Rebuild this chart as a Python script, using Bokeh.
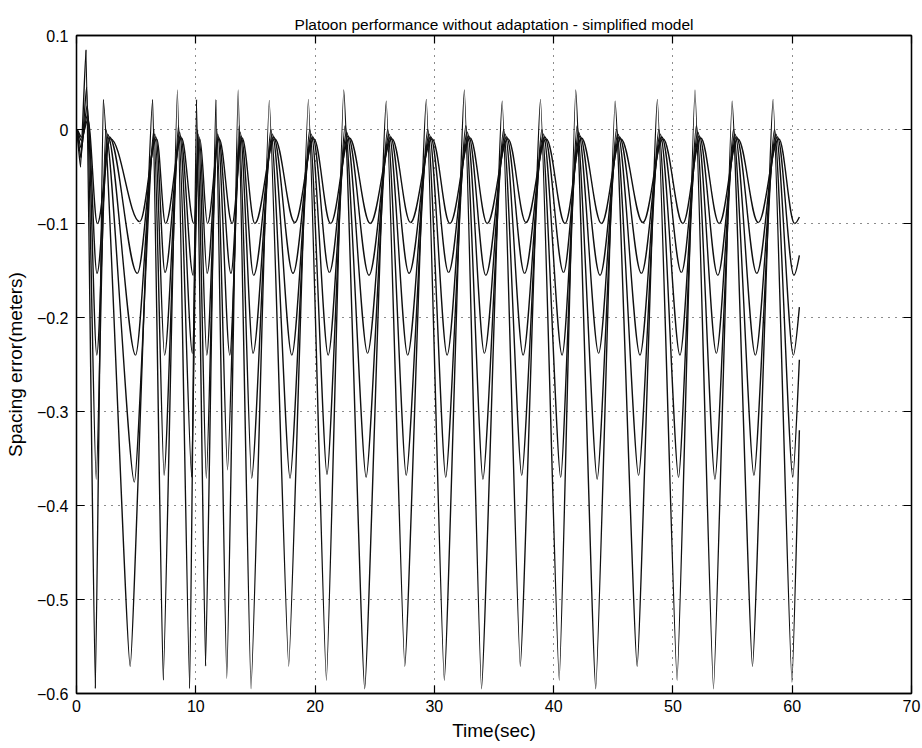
import numpy as np
from bokeh.plotting import figure
from bokeh.models import LinearAxis, FixedTicker
from bokeh.embed import file_html
from bokeh.resources import INLINE

# ---- axes / ticks ----
x_ticks = [0, 10, 20, 30, 40, 50, 60, 70]
y_ticks = [-0.6, -0.5, -0.4, -0.3, -0.2, -0.1, 0.0, 0.1]
y_tick_labels = ["\u22120.6", "\u22120.5", "\u22120.4", "\u22120.3", "\u22120.2", "\u22120.1", "0", "0.1"]

# ---- spacing-error traces: times (s) and values (m) of successive extrema ----
veh5_t = [0, 0.34, 0.8, 1.58, 2.24, 4.5, 6.39, 7.27, 8.46, 9.49, 10.06, 10.82, 11.68, 12.6, 13.55,
          14.63, 16.16, 17.79, 19.44, 20.95, 22.4, 24.16, 25.97, 27.52, 29.33, 30.83, 32.52, 33.95,
          35.69, 37.2, 38.9, 40.47, 41.85, 43.53, 45.15, 47.0, 48.7, 50.35, 51.85, 53.4, 54.96,
          56.67, 58.4, 59.98, 60.6]
veh5_y = [0, -0.04, 0.085, -0.595, 0.032, -0.571, 0.032, -0.586, 0.042, -0.595, 0.032, -0.571,
          0.032, -0.584, 0.042, -0.595, 0.031, -0.571, 0.032, -0.586, 0.042, -0.595, 0.030, -0.571,
          0.032, -0.586, 0.042, -0.595, 0.030, -0.571, 0.032, -0.586, 0.042, -0.595, 0.030, -0.571,
          0.032, -0.586, 0.042, -0.595, 0.030, -0.571, 0.032, -0.588, -0.32]

veh4_t = [0, 0.38, 0.85, 1.65, 2.45, 4.85, 6.5, 7.34, 8.56, 9.66, 10.15, 10.88, 11.76, 12.66, 13.64,
          14.68, 16.3, 17.9, 19.56, 21.0, 22.52, 24.28, 26.09, 27.64, 29.45, 30.95, 32.64, 34.07,
          35.81, 37.32, 39.02, 40.59, 41.97, 43.65, 45.27, 47.12, 48.82, 50.47, 51.97, 53.52, 55.08,
          56.79, 58.52, 60.05, 60.6]
veh4_y = [0, -0.03, 0.045, -0.372, 0.0, -0.375, 0.0, -0.368, 0.004, -0.37, 0.0, -0.371, 0.0,
          -0.362, 0.004, -0.371, 0.0, -0.371, 0.0, -0.367, 0.004, -0.37, 0.0, -0.368, 0.0, -0.37,
          0.004, -0.372, 0.0, -0.368, 0.0, -0.37, 0.004, -0.372, 0.0, -0.368, 0.0, -0.37, 0.004,
          -0.372, 0.0, -0.368, 0.0, -0.37, -0.245]

veh3_t = [0, 0.4, 0.9, 1.7, 2.6, 4.95, 6.58, 7.38, 8.64, 9.72, 10.22, 10.92, 11.84, 12.85, 13.72,
          14.8, 16.42, 18.05, 19.68, 21.1, 22.64, 24.4, 26.21, 27.76, 29.57, 31.07, 32.76, 34.19,
          35.93, 37.44, 39.14, 40.71, 42.09, 43.77, 45.39, 47.24, 48.94, 50.59, 52.09, 53.64, 55.2,
          56.91, 58.64, 60.1, 60.6]
veh3_y = [0, -0.02, 0.025, -0.24, -0.005, -0.24, -0.005, -0.24, -0.003, -0.238, -0.005, -0.24,
          -0.005, -0.24, -0.003, -0.238, -0.005, -0.24, -0.005, -0.24, -0.003, -0.238, -0.005,
          -0.24, -0.005, -0.24, -0.003, -0.238, -0.005, -0.24, -0.005, -0.24, -0.003, -0.238,
          -0.005, -0.24, -0.005, -0.24, -0.003, -0.238, -0.005, -0.24, -0.005, -0.24, -0.189]

veh2_t = [0, 0.42, 0.92, 1.72, 2.75, 5.1, 6.65, 7.42, 8.72, 9.78, 10.28, 10.95, 11.9, 12.95, 13.8,
          14.85, 16.52, 18.15, 19.8, 21.2, 22.76, 24.52, 26.33, 27.88, 29.69, 31.19, 32.88, 34.31,
          36.05, 37.56, 39.26, 40.83, 42.21, 43.89, 45.51, 47.36, 49.06, 50.71, 52.21, 53.76, 55.32,
          57.03, 58.76, 60.15, 60.6]
veh2_y = [0, -0.012, 0.015, -0.153, -0.008, -0.153, -0.008, -0.152, -0.007, -0.155, -0.008,
          -0.153, -0.008, -0.153, -0.007, -0.155, -0.008, -0.153, -0.008, -0.152, -0.007, -0.155,
          -0.008, -0.153, -0.008, -0.152, -0.007, -0.155, -0.008, -0.153, -0.008, -0.152, -0.007,
          -0.155, -0.008, -0.153, -0.008, -0.152, -0.007, -0.155, -0.008, -0.153, -0.008, -0.155,
          -0.134]

veh1_t = [0, 0.44, 0.95, 1.75, 2.85, 5.3, 6.72, 7.46, 8.8, 9.84, 10.34, 10.98, 11.96, 13.05, 13.88,
          14.95, 16.62, 18.3, 19.9, 21.3, 22.88, 24.62, 26.45, 28.0, 29.81, 31.3, 33.0, 34.43,
          36.17, 37.68, 39.38, 40.95, 42.33, 44.01, 45.63, 47.48, 49.18, 50.83, 52.33, 53.88, 55.44,
          57.15, 58.88, 60.2, 60.6]
veh1_y = [0, -0.008, 0.01, -0.1, -0.01, -0.098, -0.01, -0.1, -0.009, -0.1, -0.01, -0.1, -0.01,
          -0.1, -0.009, -0.1, -0.01, -0.099, -0.01, -0.1, -0.009, -0.1, -0.01, -0.099, -0.01,
          -0.1, -0.009, -0.1, -0.01, -0.099, -0.01, -0.1, -0.009, -0.1, -0.01, -0.099, -0.01,
          -0.1, -0.009, -0.1, -0.01, -0.099, -0.01, -0.1, -0.093]

traces = [(veh1_t, veh1_y, 0.36), (veh2_t, veh2_y, 0.33), (veh3_t, veh3_y, 0.28),
          (veh4_t, veh4_y, 0.2), (veh5_t, veh5_y, 0.13)]

FONT = "Liberation Sans"

p = figure(width=922, height=748, x_range=(0, 70), y_range=(-0.6, 0.1),
           output_backend="svg", toolbar_location=None,
           min_border_left=76, min_border_right=11, min_border_top=35, min_border_bottom=55)

p.title.text = "Platoon performance without adaptation - simplified model"
p.title.align = "center"
p.title.text_font = FONT
p.title.text_font_size = "15.5px"
p.title.text_font_style = "normal"
p.title.text_color = "black"
p.title.offset = 0
p.title.standoff = 6

p.background_fill_color = "white"
p.border_fill_color = "white"
p.outline_line_color = "black"
p.outline_line_width = 1.3

for ax, ticks in ((p.xaxis[0], x_ticks), (p.yaxis[0], y_ticks)):
    ax.ticker = FixedTicker(ticks=ticks)
    ax.major_tick_in = 8
    ax.major_tick_out = 0
    ax.minor_tick_line_color = None
    ax.axis_line_color = "black"
    ax.axis_line_width = 1.3
    ax.major_tick_line_color = "black"
    ax.major_tick_line_width = 1.2
    ax.major_label_text_font = FONT
    ax.major_label_text_font_size = "16px"
    ax.major_label_text_color = "black"
    ax.axis_label_text_font = FONT
    ax.axis_label_text_font_size = "19px"
    ax.axis_label_text_font_style = "normal"
    ax.axis_label_text_color = "black"

p.yaxis[0].major_label_overrides = {t: s for t, s in zip(y_ticks, y_tick_labels)}
p.xaxis[0].axis_label = "Time(sec)"
p.yaxis[0].axis_label = "Spacing error(meters)"
p.xaxis[0].major_label_standoff = 6
p.yaxis[0].major_label_standoff = 8
p.xaxis[0].axis_label_standoff = 5
p.yaxis[0].axis_label_standoff = 8

# tick-only axes on the right and top (box style); labels not drawn
for loc, ticks in (("right", y_ticks), ("above", x_ticks)):
    ax = LinearAxis(ticker=FixedTicker(ticks=ticks), major_tick_in=8, major_tick_out=0,
                    minor_tick_line_color=None, major_label_text_font_size="1px",
                    major_label_text_color=None, major_label_standoff=0,
                    axis_line_width=1.3, major_tick_line_width=1.2)
    p.add_layout(ax, loc)

for g in (p.xgrid[0], p.ygrid[0]):
    g.grid_line_color = "black"
    g.grid_line_dash = "1 6"
    g.grid_line_width = 1
    g.grid_line_alpha = 0.9
p.xgrid[0].ticker = FixedTicker(ticks=x_ticks)
p.ygrid[0].ticker = FixedTicker(ticks=y_ticks)

for t, y, k in traces:
    t = np.asarray(t, dtype=float)
    y = np.asarray(y, dtype=float)
    x0, x1, y0, y1 = t[:-1], t[1:], y[:-1], y[1:]
    d = x1 - x0
    cx0 = x0 + k * d
    cx1 = x1 - k * d
    cy0 = y0.copy()
    cy1 = y1.copy()
    cx1[-1] = x1[-1]
    p.bezier(x0=x0, y0=y0, x1=x1, y1=y1, cx0=cx0, cy0=cy0, cx1=cx1, cy1=cy1,
             line_color="#101010", line_width=1.4)

open("out.html", "w").write(file_html(p, INLINE))
